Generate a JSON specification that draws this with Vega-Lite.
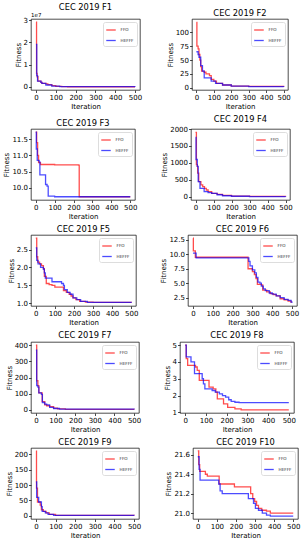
{
"$schema": "https://vega.github.io/schema/vega-lite/v6.json",
"padding": {"left": 2, "top": 2, "right": 0, "bottom": 0},
"background": "white",
"config": {
 "font": "DejaVu Sans",
 "view": {"stroke": "black", "strokeWidth": 0.7},
 "axis": {"grid": false, "domain": false, "labelFontSize": 7, "titleFontSize": 7, "titleFontWeight": "normal", "labelColor": "black", "titleColor": "black", "tickColor": "black", "tickSize": 2.5, "tickWidth": 0.7, "labelPadding": 1, "titlePadding": 2, "labelFlush": false, "labelOverlap": false},
 "title": {"fontSize": 8.3, "fontWeight": "normal", "color": "black", "offset": 2},
 "legend": {"orient": "top-right", "offset": 3, "padding": 2.5, "strokeColor": "#dddddd", "fillColor": "white", "cornerRadius": 2, "labelFontSize": 4.2, "labelColor": "#333333", "symbolType": "stroke", "symbolSize": 90, "symbolStrokeWidth": 1.3, "symbolOpacity": 0.7, "rowPadding": 1.5, "labelOffset": 4},
 "range": {"category": ["#ff0000", "#0000ff"]},
 "line": {"interpolate": "step-after", "strokeWidth": 1.3, "opacity": 0.7, "clip": true}
},
"data": {"values": [
{"f":"F1","a":"FFO","x":0,"y":29000000},{"f":"F1","a":"FFO","x":3,"y":6000000},{"f":"F1","a":"FFO","x":6,"y":4500000},{"f":"F1","a":"FFO","x":10,"y":2500000},{"f":"F1","a":"FFO","x":25,"y":2000000},{"f":"F1","a":"FFO","x":30,"y":1500000},{"f":"F1","a":"FFO","x":50,"y":1300000},{"f":"F1","a":"FFO","x":60,"y":1000000},{"f":"F1","a":"FFO","x":80,"y":500000},{"f":"F1","a":"FFO","x":100,"y":200000},{"f":"F1","a":"FFO","x":130,"y":50000},{"f":"F1","a":"FFO","x":160,"y":10000},{"f":"F1","a":"FFO","x":500,"y":10000},
{"f":"F1","a":"HEFFF","x":0,"y":19000000},{"f":"F1","a":"HEFFF","x":4,"y":5000000},{"f":"F1","a":"HEFFF","x":8,"y":2500000},{"f":"F1","a":"HEFFF","x":25,"y":2000000},{"f":"F1","a":"HEFFF","x":30,"y":1500000},{"f":"F1","a":"HEFFF","x":50,"y":800000},{"f":"F1","a":"HEFFF","x":80,"y":300000},{"f":"F1","a":"HEFFF","x":120,"y":50000},{"f":"F1","a":"HEFFF","x":500,"y":5000},
{"f":"F2","a":"FFO","x":0,"y":118},{"f":"F2","a":"FFO","x":3,"y":75},{"f":"F2","a":"FFO","x":10,"y":70},{"f":"F2","a":"FFO","x":15,"y":60},{"f":"F2","a":"FFO","x":20,"y":50},{"f":"F2","a":"FFO","x":25,"y":38},{"f":"F2","a":"FFO","x":30,"y":30},{"f":"F2","a":"FFO","x":45,"y":28},{"f":"F2","a":"FFO","x":55,"y":25},{"f":"F2","a":"FFO","x":75,"y":22},{"f":"F2","a":"FFO","x":85,"y":15},{"f":"F2","a":"FFO","x":100,"y":12},{"f":"F2","a":"FFO","x":115,"y":8},{"f":"F2","a":"FFO","x":150,"y":5},{"f":"F2","a":"FFO","x":200,"y":3},{"f":"F2","a":"FFO","x":300,"y":2.5},{"f":"F2","a":"FFO","x":500,"y":2},
{"f":"F2","a":"HEFFF","x":0,"y":65},{"f":"F2","a":"HEFFF","x":10,"y":60},{"f":"F2","a":"HEFFF","x":15,"y":55},{"f":"F2","a":"HEFFF","x":25,"y":40},{"f":"F2","a":"HEFFF","x":35,"y":30},{"f":"F2","a":"HEFFF","x":45,"y":18},{"f":"F2","a":"HEFFF","x":85,"y":12},{"f":"F2","a":"HEFFF","x":110,"y":8},{"f":"F2","a":"HEFFF","x":150,"y":5},{"f":"F2","a":"HEFFF","x":200,"y":3},{"f":"F2","a":"HEFFF","x":300,"y":2},{"f":"F2","a":"HEFFF","x":500,"y":1.5},
{"f":"F3","a":"FFO","x":0,"y":11.72},{"f":"F3","a":"FFO","x":5,"y":11.4},{"f":"F3","a":"FFO","x":10,"y":11.0},{"f":"F3","a":"FFO","x":15,"y":10.78},{"f":"F3","a":"FFO","x":25,"y":10.72},{"f":"F3","a":"FFO","x":100,"y":10.71},{"f":"F3","a":"FFO","x":226,"y":10.7},{"f":"F3","a":"FFO","x":230,"y":9.72},{"f":"F3","a":"FFO","x":500,"y":9.72},
{"f":"F3","a":"HEFFF","x":0,"y":11.72},{"f":"F3","a":"HEFFF","x":3,"y":11.2},{"f":"F3","a":"HEFFF","x":8,"y":10.85},{"f":"F3","a":"HEFFF","x":18,"y":10.8},{"f":"F3","a":"HEFFF","x":22,"y":10.4},{"f":"F3","a":"HEFFF","x":52,"y":10.1},{"f":"F3","a":"HEFFF","x":60,"y":10.05},{"f":"F3","a":"HEFFF","x":66,"y":9.74},{"f":"F3","a":"HEFFF","x":100,"y":9.72},{"f":"F3","a":"HEFFF","x":500,"y":9.72},
{"f":"F4","a":"FFO","x":0,"y":1900},{"f":"F4","a":"FFO","x":5,"y":950},{"f":"F4","a":"FFO","x":10,"y":900},{"f":"F4","a":"FFO","x":12,"y":700},{"f":"F4","a":"FFO","x":18,"y":450},{"f":"F4","a":"FFO","x":30,"y":350},{"f":"F4","a":"FFO","x":40,"y":300},{"f":"F4","a":"FFO","x":50,"y":250},{"f":"F4","a":"FFO","x":60,"y":200},{"f":"F4","a":"FFO","x":70,"y":150},{"f":"F4","a":"FFO","x":90,"y":100},{"f":"F4","a":"FFO","x":120,"y":70},{"f":"F4","a":"FFO","x":150,"y":40},{"f":"F4","a":"FFO","x":200,"y":20},{"f":"F4","a":"FFO","x":300,"y":10},{"f":"F4","a":"FFO","x":500,"y":5},
{"f":"F4","a":"HEFFF","x":0,"y":1750},{"f":"F4","a":"HEFFF","x":3,"y":1100},{"f":"F4","a":"HEFFF","x":10,"y":900},{"f":"F4","a":"HEFFF","x":15,"y":450},{"f":"F4","a":"HEFFF","x":25,"y":250},{"f":"F4","a":"HEFFF","x":48,"y":150},{"f":"F4","a":"HEFFF","x":70,"y":120},{"f":"F4","a":"HEFFF","x":90,"y":100},{"f":"F4","a":"HEFFF","x":120,"y":60},{"f":"F4","a":"HEFFF","x":150,"y":30},{"f":"F4","a":"HEFFF","x":200,"y":15},{"f":"F4","a":"HEFFF","x":300,"y":5},{"f":"F4","a":"HEFFF","x":500,"y":3},
{"f":"F5","a":"FFO","x":0,"y":2.82},{"f":"F5","a":"FFO","x":5,"y":2.3},{"f":"F5","a":"FFO","x":10,"y":2.15},{"f":"F5","a":"FFO","x":20,"y":2.1},{"f":"F5","a":"FFO","x":30,"y":2.05},{"f":"F5","a":"FFO","x":40,"y":1.97},{"f":"F5","a":"FFO","x":45,"y":1.75},{"f":"F5","a":"FFO","x":55,"y":1.55},{"f":"F5","a":"FFO","x":70,"y":1.52},{"f":"F5","a":"FFO","x":85,"y":1.5},{"f":"F5","a":"FFO","x":100,"y":1.45},{"f":"F5","a":"FFO","x":145,"y":1.35},{"f":"F5","a":"FFO","x":160,"y":1.3},{"f":"F5","a":"FFO","x":175,"y":1.25},{"f":"F5","a":"FFO","x":185,"y":1.2},{"f":"F5","a":"FFO","x":195,"y":1.15},{"f":"F5","a":"FFO","x":210,"y":1.1},{"f":"F5","a":"FFO","x":230,"y":1.05},{"f":"F5","a":"FFO","x":260,"y":1.03},{"f":"F5","a":"FFO","x":300,"y":1.02},{"f":"F5","a":"FFO","x":500,"y":1.01},
{"f":"F5","a":"HEFFF","x":0,"y":2.55},{"f":"F5","a":"HEFFF","x":5,"y":2.2},{"f":"F5","a":"HEFFF","x":12,"y":2.1},{"f":"F5","a":"HEFFF","x":25,"y":2.0},{"f":"F5","a":"HEFFF","x":40,"y":1.95},{"f":"F5","a":"HEFFF","x":45,"y":1.85},{"f":"F5","a":"HEFFF","x":50,"y":1.7},{"f":"F5","a":"HEFFF","x":85,"y":1.6},{"f":"F5","a":"HEFFF","x":135,"y":1.55},{"f":"F5","a":"HEFFF","x":145,"y":1.5},{"f":"F5","a":"HEFFF","x":150,"y":1.38},{"f":"F5","a":"HEFFF","x":165,"y":1.3},{"f":"F5","a":"HEFFF","x":180,"y":1.25},{"f":"F5","a":"HEFFF","x":195,"y":1.15},{"f":"F5","a":"HEFFF","x":215,"y":1.1},{"f":"F5","a":"HEFFF","x":235,"y":1.05},{"f":"F5","a":"HEFFF","x":270,"y":1.02},{"f":"F5","a":"HEFFF","x":500,"y":1.01},
{"f":"F6","a":"FFO","x":0,"y":12.8},{"f":"F6","a":"FFO","x":2,"y":10.6},{"f":"F6","a":"FFO","x":12,"y":9.5},{"f":"F6","a":"FFO","x":278,"y":7.5},{"f":"F6","a":"FFO","x":300,"y":7.0},{"f":"F6","a":"FFO","x":310,"y":6.5},{"f":"F6","a":"FFO","x":318,"y":5.8},{"f":"F6","a":"FFO","x":325,"y":4.8},{"f":"F6","a":"FFO","x":345,"y":4.7},{"f":"F6","a":"FFO","x":352,"y":3.8},{"f":"F6","a":"FFO","x":372,"y":3.5},{"f":"F6","a":"FFO","x":390,"y":3.2},{"f":"F6","a":"FFO","x":405,"y":3.0},{"f":"F6","a":"FFO","x":420,"y":2.8},{"f":"F6","a":"FFO","x":440,"y":2.3},{"f":"F6","a":"FFO","x":460,"y":2.1},{"f":"F6","a":"FFO","x":480,"y":1.9},{"f":"F6","a":"FFO","x":495,"y":1.7},{"f":"F6","a":"FFO","x":500,"y":1.7},
{"f":"F6","a":"HEFFF","x":0,"y":10.2},{"f":"F6","a":"HEFFF","x":16,"y":9.4},{"f":"F6","a":"HEFFF","x":282,"y":8.8},{"f":"F6","a":"HEFFF","x":288,"y":8.0},{"f":"F6","a":"HEFFF","x":300,"y":7.3},{"f":"F6","a":"HEFFF","x":312,"y":6.8},{"f":"F6","a":"HEFFF","x":320,"y":6.0},{"f":"F6","a":"HEFFF","x":328,"y":5.2},{"f":"F6","a":"HEFFF","x":338,"y":5.0},{"f":"F6","a":"HEFFF","x":345,"y":4.5},{"f":"F6","a":"HEFFF","x":355,"y":4.0},{"f":"F6","a":"HEFFF","x":365,"y":3.7},{"f":"F6","a":"HEFFF","x":385,"y":3.3},{"f":"F6","a":"HEFFF","x":400,"y":3.1},{"f":"F6","a":"HEFFF","x":420,"y":2.8},{"f":"F6","a":"HEFFF","x":440,"y":2.5},{"f":"F6","a":"HEFFF","x":460,"y":2.2},{"f":"F6","a":"HEFFF","x":480,"y":2.0},{"f":"F6","a":"HEFFF","x":495,"y":1.7},{"f":"F6","a":"HEFFF","x":500,"y":1.6},
{"f":"F7","a":"FFO","x":0,"y":400},{"f":"F7","a":"FFO","x":4,"y":180},{"f":"F7","a":"FFO","x":10,"y":150},{"f":"F7","a":"FFO","x":15,"y":105},{"f":"F7","a":"FFO","x":32,"y":50},{"f":"F7","a":"FFO","x":45,"y":30},{"f":"F7","a":"FFO","x":55,"y":25},{"f":"F7","a":"FFO","x":70,"y":20},{"f":"F7","a":"FFO","x":90,"y":10},{"f":"F7","a":"FFO","x":110,"y":5},{"f":"F7","a":"FFO","x":150,"y":2},{"f":"F7","a":"FFO","x":500,"y":1},
{"f":"F7","a":"HEFFF","x":0,"y":370},{"f":"F7","a":"HEFFF","x":4,"y":150},{"f":"F7","a":"HEFFF","x":10,"y":140},{"f":"F7","a":"HEFFF","x":15,"y":105},{"f":"F7","a":"HEFFF","x":28,"y":95},{"f":"F7","a":"HEFFF","x":33,"y":45},{"f":"F7","a":"HEFFF","x":45,"y":35},{"f":"F7","a":"HEFFF","x":55,"y":30},{"f":"F7","a":"HEFFF","x":70,"y":15},{"f":"F7","a":"HEFFF","x":90,"y":8},{"f":"F7","a":"HEFFF","x":120,"y":4},{"f":"F7","a":"HEFFF","x":500,"y":1},
{"f":"F8","a":"FFO","x":0,"y":5.0},{"f":"F8","a":"FFO","x":5,"y":4.2},{"f":"F8","a":"FFO","x":12,"y":3.8},{"f":"F8","a":"FFO","x":50,"y":3.7},{"f":"F8","a":"FFO","x":58,"y":3.5},{"f":"F8","a":"FFO","x":68,"y":2.9},{"f":"F8","a":"FFO","x":115,"y":2.5},{"f":"F8","a":"FFO","x":135,"y":2.4},{"f":"F8","a":"FFO","x":148,"y":2.2},{"f":"F8","a":"FFO","x":155,"y":1.8},{"f":"F8","a":"FFO","x":185,"y":1.5},{"f":"F8","a":"FFO","x":205,"y":1.3},{"f":"F8","a":"FFO","x":240,"y":1.2},{"f":"F8","a":"FFO","x":270,"y":1.15},{"f":"F8","a":"FFO","x":500,"y":1.15},
{"f":"F8","a":"HEFFF","x":0,"y":5.0},{"f":"F8","a":"HEFFF","x":5,"y":4.3},{"f":"F8","a":"HEFFF","x":28,"y":4.0},{"f":"F8","a":"HEFFF","x":45,"y":3.3},{"f":"F8","a":"HEFFF","x":82,"y":3.0},{"f":"F8","a":"HEFFF","x":88,"y":2.7},{"f":"F8","a":"HEFFF","x":95,"y":2.4},{"f":"F8","a":"HEFFF","x":130,"y":2.3},{"f":"F8","a":"HEFFF","x":145,"y":2.2},{"f":"F8","a":"HEFFF","x":165,"y":2.1},{"f":"F8","a":"HEFFF","x":180,"y":2.0},{"f":"F8","a":"HEFFF","x":195,"y":1.9},{"f":"F8","a":"HEFFF","x":210,"y":1.75},{"f":"F8","a":"HEFFF","x":222,"y":1.65},{"f":"F8","a":"HEFFF","x":240,"y":1.6},{"f":"F8","a":"HEFFF","x":260,"y":1.58},{"f":"F8","a":"HEFFF","x":500,"y":1.58},
{"f":"F9","a":"FFO","x":0,"y":210},{"f":"F9","a":"FFO","x":3,"y":90},{"f":"F9","a":"FFO","x":8,"y":45},{"f":"F9","a":"FFO","x":22,"y":35},{"f":"F9","a":"FFO","x":28,"y":20},{"f":"F9","a":"FFO","x":38,"y":15},{"f":"F9","a":"FFO","x":52,"y":10},{"f":"F9","a":"FFO","x":68,"y":5},{"f":"F9","a":"FFO","x":100,"y":2},{"f":"F9","a":"FFO","x":500,"y":1},
{"f":"F9","a":"HEFFF","x":0,"y":110},{"f":"F9","a":"HEFFF","x":4,"y":60},{"f":"F9","a":"HEFFF","x":14,"y":45},{"f":"F9","a":"HEFFF","x":28,"y":30},{"f":"F9","a":"HEFFF","x":32,"y":15},{"f":"F9","a":"HEFFF","x":48,"y":10},{"f":"F9","a":"HEFFF","x":62,"y":5},{"f":"F9","a":"HEFFF","x":90,"y":2},{"f":"F9","a":"HEFFF","x":500,"y":1},
{"f":"F10","a":"FFO","x":0,"y":21.64},{"f":"F10","a":"FFO","x":5,"y":21.5},{"f":"F10","a":"FFO","x":10,"y":21.43},{"f":"F10","a":"FFO","x":40,"y":21.4},{"f":"F10","a":"FFO","x":50,"y":21.38},{"f":"F10","a":"FFO","x":112,"y":21.3},{"f":"F10","a":"FFO","x":192,"y":21.27},{"f":"F10","a":"FFO","x":277,"y":21.2},{"f":"F10","a":"FFO","x":288,"y":21.15},{"f":"F10","a":"FFO","x":298,"y":21.12},{"f":"F10","a":"FFO","x":308,"y":21.08},{"f":"F10","a":"FFO","x":318,"y":21.05},{"f":"F10","a":"FFO","x":335,"y":21.03},{"f":"F10","a":"FFO","x":360,"y":21.02},{"f":"F10","a":"FFO","x":380,"y":21.0},{"f":"F10","a":"FFO","x":500,"y":21.0},
{"f":"F10","a":"HEFFF","x":0,"y":21.58},{"f":"F10","a":"HEFFF","x":7,"y":21.45},{"f":"F10","a":"HEFFF","x":12,"y":21.34},{"f":"F10","a":"HEFFF","x":110,"y":21.3},{"f":"F10","a":"HEFFF","x":117,"y":21.23},{"f":"F10","a":"HEFFF","x":128,"y":21.2},{"f":"F10","a":"HEFFF","x":265,"y":21.15},{"f":"F10","a":"HEFFF","x":292,"y":21.1},{"f":"F10","a":"HEFFF","x":302,"y":21.05},{"f":"F10","a":"HEFFF","x":318,"y":21.03},{"f":"F10","a":"HEFFF","x":338,"y":21.0},{"f":"F10","a":"HEFFF","x":360,"y":20.98},{"f":"F10","a":"HEFFF","x":380,"y":20.97},{"f":"F10","a":"HEFFF","x":500,"y":20.97}
]},
"resolve": {"legend": {"color": "independent"}},
"spacing": 4,
"vconcat": [
 {"hconcat": [
  {"width": 109, "height": 71, "title": "CEC 2019 F1",
   "layer": [
    {"mark": "line",
     "transform": [{"filter": "datum.f == 'F1'"}],
     "encoding": {
      "x": {"field": "x", "type": "quantitative", "scale": {"domain": [-25, 525], "nice": false}, "axis": {"values": [0,100,200,300,400,500], "title": "Iteration"}},
      "y": {"field": "y", "type": "quantitative", "scale": {"domain": [-1450000, 30450000], "nice": false, "zero": false}, "axis": {"values": [0,10000000,20000000,30000000], "title": "Fitness", "labelExpr": "format(datum.value/1e7, 'd')"}},
      "color": {"field": "a", "type": "nominal", "scale": {"domain": ["FFO","HEFFF"]}, "legend": {"title": null}}}},
    {"mark": {"type": "text", "align": "left", "baseline": "bottom", "fontSize": 5.5, "dy": -1, "clip": false},
     "transform": [{"filter": "datum.f == 'F1' && datum.a == 'FFO' && datum.x == 0"}, {"calculate": "'1e7'", "as": "lbl"}],
     "encoding": {
      "x": {"datum": -25, "type": "quantitative", "axis": {"values": [0,100,200,300,400,500], "title": "Iteration"}},
      "y": {"datum": 30450000, "type": "quantitative", "axis": {"values": [0,10000000,20000000,30000000], "title": "Fitness", "labelExpr": "format(datum.value/1e7, 'd')"}},
      "text": {"field": "lbl"}}}
   ]},
  {"width": 96, "height": 71, "title": "CEC 2019 F2",
   "mark": "line",
   "transform": [{"filter": "datum.f == 'F2'"}],
   "encoding": {
    "x": {"field": "x", "type": "quantitative", "scale": {"domain": [-25, 525], "nice": false}, "axis": {"values": [0,100,200,300,400,500], "title": "Iteration"}},
    "y": {"field": "y", "type": "quantitative", "scale": {"domain": [-4, 124], "nice": false, "zero": false}, "axis": {"values": [0,25,50,75,100], "title": "Fitness"}},
    "color": {"field": "a", "type": "nominal", "scale": {"domain": ["FFO","HEFFF"]}, "legend": {"title": null}}}}
 ], "spacing": 22, "resolve": {"legend": {"color": "independent"}}},
 {"hconcat": [
  {"width": 104, "height": 71, "title": "CEC 2019 F3",
   "mark": "line",
   "transform": [{"filter": "datum.f == 'F3'"}],
   "encoding": {
    "x": {"field": "x", "type": "quantitative", "scale": {"domain": [-25, 525], "nice": false}, "axis": {"values": [0,100,200,300,400,500], "title": "Iteration"}},
    "y": {"field": "y", "type": "quantitative", "scale": {"domain": [9.62, 11.82], "nice": false, "zero": false}, "axis": {"values": [10,10.5,11,11.5], "format": ".1f", "title": "Fitness"}},
    "color": {"field": "a", "type": "nominal", "scale": {"domain": ["FFO","HEFFF"]}, "legend": {"title": null}}}},
  {"width": 99, "height": 71, "title": "CEC 2019 F4",
   "mark": "line",
   "transform": [{"filter": "datum.f == 'F4'"}],
   "encoding": {
    "x": {"field": "x", "type": "quantitative", "scale": {"domain": [-25, 525], "nice": false}, "axis": {"values": [0,100,200,300,400,500], "title": "Iteration"}},
    "y": {"field": "y", "type": "quantitative", "scale": {"domain": [-95, 2000], "nice": false, "zero": false}, "axis": {"values": [0,500,1000,1500,2000], "format": "d", "title": "Fitness"}},
    "color": {"field": "a", "type": "nominal", "scale": {"domain": ["FFO","HEFFF"]}, "legend": {"title": null}}}}
 ], "spacing": 22, "resolve": {"legend": {"color": "independent"}}},
 {"hconcat": [
  {"width": 105, "height": 71, "title": "CEC 2019 F5",
   "mark": "line",
   "transform": [{"filter": "datum.f == 'F5'"}],
   "encoding": {
    "x": {"field": "x", "type": "quantitative", "scale": {"domain": [-25, 525], "nice": false}, "axis": {"values": [0,100,200,300,400,500], "title": "Iteration"}},
    "y": {"field": "y", "type": "quantitative", "scale": {"domain": [0.92, 2.91], "nice": false, "zero": false}, "axis": {"values": [1,1.5,2,2.5], "format": ".1f", "title": "Fitness"}},
    "color": {"field": "a", "type": "nominal", "scale": {"domain": ["FFO","HEFFF"]}, "legend": {"title": null}}}},
  {"width": 109, "height": 71, "title": "CEC 2019 F6",
   "mark": "line",
   "transform": [{"filter": "datum.f == 'F6'"}],
   "encoding": {
    "x": {"field": "x", "type": "quantitative", "scale": {"domain": [-25, 525], "nice": false}, "axis": {"values": [0,100,200,300,400,500], "title": "Iteration"}},
    "y": {"field": "y", "type": "quantitative", "scale": {"domain": [1.04, 13.36], "nice": false, "zero": false}, "axis": {"values": [2.5,5,7.5,10,12.5], "format": ".1f", "title": "Fitness"}},
    "color": {"field": "a", "type": "nominal", "scale": {"domain": ["FFO","HEFFF"]}, "legend": {"title": null}}}}
 ], "spacing": 20, "resolve": {"legend": {"color": "independent"}}},
 {"hconcat": [
  {"width": 108, "height": 71, "title": "CEC 2019 F7",
   "mark": "line",
   "transform": [{"filter": "datum.f == 'F7'"}],
   "encoding": {
    "x": {"field": "x", "type": "quantitative", "scale": {"domain": [-25, 525], "nice": false}, "axis": {"values": [0,100,200,300,400,500], "title": "Iteration"}},
    "y": {"field": "y", "type": "quantitative", "scale": {"domain": [-20, 420], "nice": false, "zero": false}, "axis": {"values": [0,100,200,300,400], "title": "Fitness"}},
    "color": {"field": "a", "type": "nominal", "scale": {"domain": ["FFO","HEFFF"]}, "legend": {"title": null}}}},
  {"width": 114, "height": 71, "title": "CEC 2019 F8",
   "mark": "line",
   "transform": [{"filter": "datum.f == 'F8'"}],
   "encoding": {
    "x": {"field": "x", "type": "quantitative", "scale": {"domain": [-25, 525], "nice": false}, "axis": {"values": [0,100,200,300,400,500], "title": "Iteration"}},
    "y": {"field": "y", "type": "quantitative", "scale": {"domain": [0.96, 5.19], "nice": false, "zero": false}, "axis": {"values": [1,2,3,4,5], "title": "Fitness"}},
    "color": {"field": "a", "type": "nominal", "scale": {"domain": ["FFO","HEFFF"]}, "legend": {"title": null}}}}
 ], "spacing": 20, "resolve": {"legend": {"color": "independent"}}},
 {"hconcat": [
  {"width": 108, "height": 71, "title": "CEC 2019 F9",
   "mark": "line",
   "transform": [{"filter": "datum.f == 'F9'"}],
   "encoding": {
    "x": {"field": "x", "type": "quantitative", "scale": {"domain": [-25, 525], "nice": false}, "axis": {"values": [0,100,200,300,400,500], "title": "Iteration"}},
    "y": {"field": "y", "type": "quantitative", "scale": {"domain": [-10, 220], "nice": false, "zero": false}, "axis": {"values": [0,50,100,150,200], "title": "Fitness"}},
    "color": {"field": "a", "type": "nominal", "scale": {"domain": ["FFO","HEFFF"]}, "legend": {"title": null}}}},
  {"width": 105, "height": 71, "title": "CEC 2019 F10",
   "mark": "line",
   "transform": [{"filter": "datum.f == 'F10'"}],
   "encoding": {
    "x": {"field": "x", "type": "quantitative", "scale": {"domain": [-25, 525], "nice": false}, "axis": {"values": [0,100,200,300,400,500], "title": "Iteration"}},
    "y": {"field": "y", "type": "quantitative", "scale": {"domain": [20.94, 21.67], "nice": false, "zero": false}, "axis": {"values": [21,21.2,21.4,21.6], "format": ".1f", "title": "Fitness"}},
    "color": {"field": "a", "type": "nominal", "scale": {"domain": ["FFO","HEFFF"]}, "legend": {"title": null}}}}
 ], "spacing": 22, "resolve": {"legend": {"color": "independent"}}}
]
}
